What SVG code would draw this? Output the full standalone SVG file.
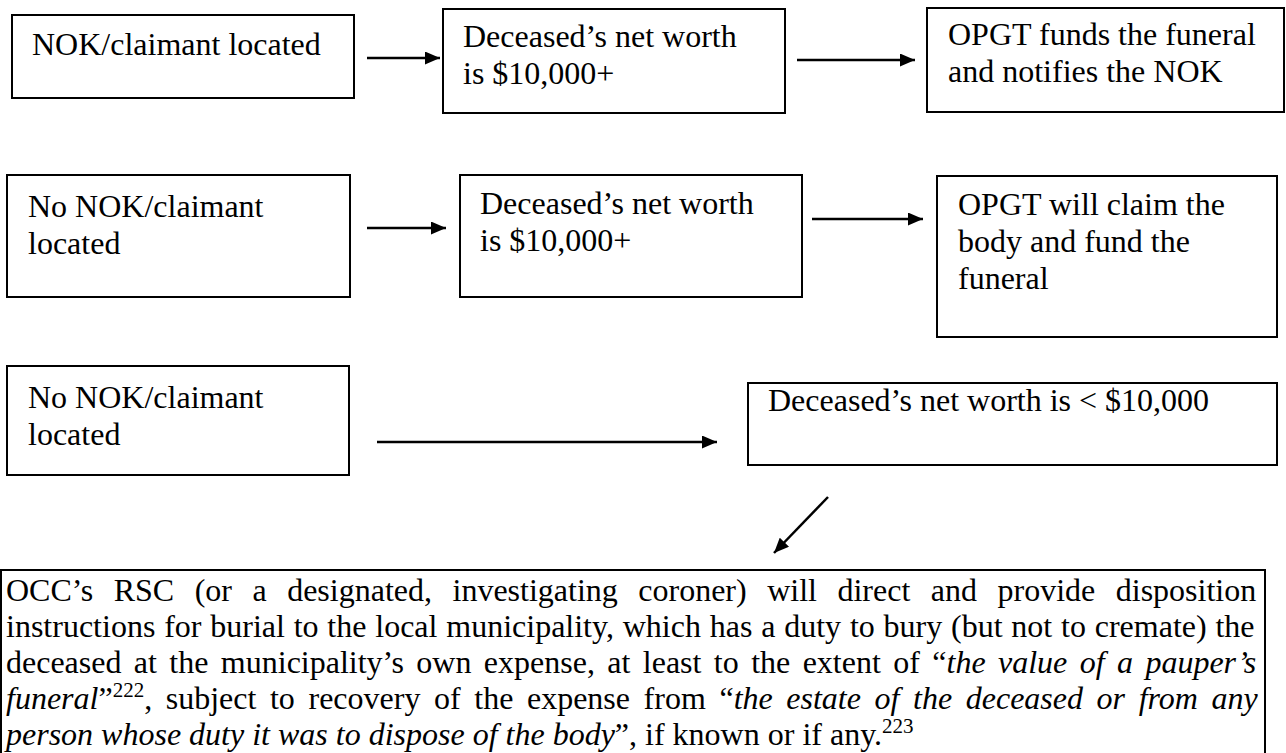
<svg xmlns="http://www.w3.org/2000/svg" width="1286" height="753" viewBox="0 0 1286 753">
<style>
.box{fill:#fff;stroke:#000;stroke-width:2}
.t{font-family:"Liberation Serif","Times New Roman",serif;font-size:32px;fill:#000}
.i{font-style:italic}
.c{stroke:#000;stroke-width:2.5;fill:none}
</style>
<defs>
<marker id="ah" viewBox="0 0 15 13" refX="15" refY="6.5" markerWidth="15" markerHeight="13" markerUnits="userSpaceOnUse" orient="auto">
<path d="M0,0 L15,6.5 L0,13 z" fill="#000"/>
</marker>
</defs>
<rect width="1286" height="753" fill="#fff"/>
<g id="n1"><rect class="box" x="12" y="15" width="342" height="83"/><text class="t" x="32" y="55">NOK/claimant located</text></g>
<g id="n2"><rect class="box" x="443" y="9" width="342" height="104"/><text class="t" x="463" y="47">Deceased’s net worth</text><text class="t" x="463" y="84">is $10,000+</text></g>
<g id="n3"><rect class="box" x="927" y="8" width="357" height="104"/><text class="t" x="948" y="45">OPGT funds the funeral</text><text class="t" x="948" y="82">and notifies the NOK</text></g>
<g id="n4"><rect class="box" x="7" y="175" width="343" height="122"/><text class="t" x="28" y="217">No NOK/claimant</text><text class="t" x="28" y="254">located</text></g>
<g id="n5"><rect class="box" x="460" y="175" width="342" height="122"/><text class="t" x="480" y="214">Deceased’s net worth</text><text class="t" x="480" y="251">is $10,000+</text></g>
<g id="n6"><rect class="box" x="937" y="176" width="340" height="161"/><text class="t" x="958" y="215">OPGT will claim the</text><text class="t" x="958" y="252">body and fund the</text><text class="t" x="958" y="289">funeral</text></g>
<g id="n7"><rect class="box" x="7" y="366" width="342" height="109"/><text class="t" x="28" y="408">No NOK/claimant</text><text class="t" x="28" y="445">located</text></g>
<g id="n8"><rect class="box" x="748" y="383" width="529" height="82"/><text class="t" x="768" y="411">Deceased’s net worth is &lt; $10,000</text></g>
<g id="n9"><rect class="box" x="1" y="570" width="1264" height="200"/>
<text class="t" x="6" y="601" word-spacing="12.5">OCC’s RSC (or a designated, investigating coroner) will direct and provide disposition</text>
<text class="t" x="6" y="637" word-spacing="0.8">instructions for burial to the local municipality, which has a duty to bury (but not to cremate) the</text>
<text class="t" x="6" y="673" word-spacing="4.4">deceased at the municipality’s own expense, at least to the extent of “<tspan class="i">the value of a pauper’s</tspan></text>
<text class="t" x="6" y="709" word-spacing="5.6"><tspan class="i">funeral</tspan>”<tspan font-size="21" dy="-12">222</tspan><tspan dy="12">, subject to recovery of the expense from “</tspan><tspan class="i">the estate of the deceased or from any</tspan></text>
<text class="t" x="6" y="745"><tspan class="i">person whose duty it was to dispose of the body</tspan>”, if known or if any.<tspan font-size="21" dy="-12">223</tspan></text>
</g>
<g id="connectors">
<line class="c" x1="367" y1="58" x2="440" y2="58" marker-end="url(#ah)"/>
<line class="c" x1="797" y1="60" x2="915" y2="60" marker-end="url(#ah)"/>
<line class="c" x1="367" y1="228" x2="446" y2="228" marker-end="url(#ah)"/>
<line class="c" x1="812" y1="219" x2="923" y2="219" marker-end="url(#ah)"/>
<line class="c" x1="377" y1="442" x2="717" y2="442" marker-end="url(#ah)"/>
<line class="c" x1="828" y1="497" x2="774" y2="553" marker-end="url(#ah)"/>
</g>
</svg>
